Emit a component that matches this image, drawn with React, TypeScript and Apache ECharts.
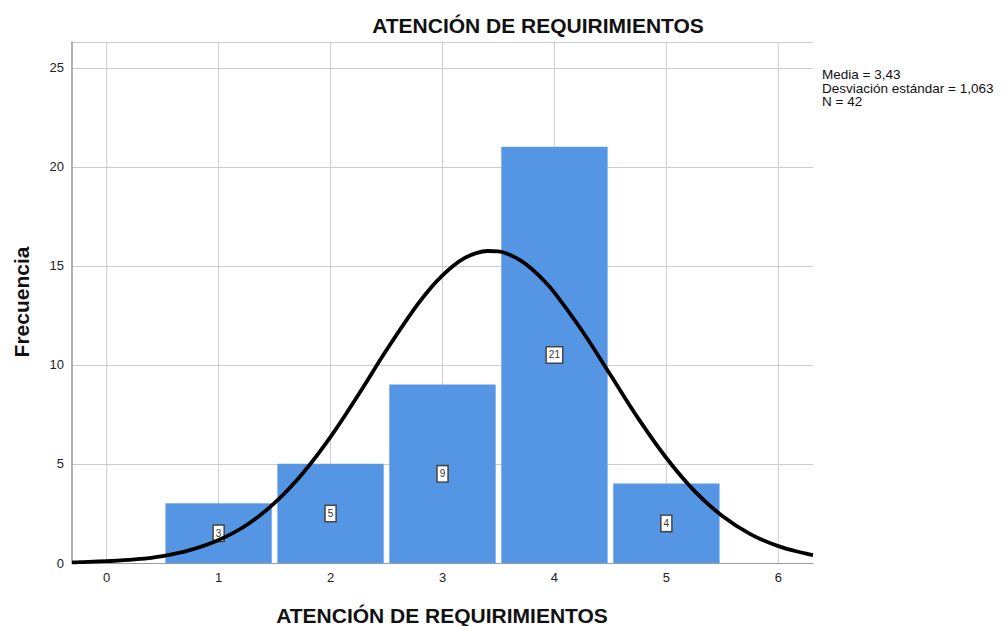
import React, { useEffect, useRef } from "react";
import * as echarts from "echarts";

const title = "ATENCIÓN DE REQUIRIMIENTOS";
const xName = "ATENCIÓN DE REQUIRIMIENTOS";
const yName = "Frecuencia";
const statsLines = ["Media = 3,43", "Desviación estándar = 1,063", "N = 42"];

const binCenters = [1, 2, 3, 4, 5];
const frequencies = [3, 5, 9, 21, 4];

const xTicks = [0, 1, 2, 3, 4, 5, 6];

// Normal curve
const curveX = [-0.31, -0.25, 0, 0.25, 0.5, 0.75, 1, 1.25, 1.5, 1.75, 2, 2.25, 2.5, 2.75, 2.9, 3.0, 3.1, 3.2, 3.3, 3.4, 3.5, 3.6, 3.7, 3.8, 3.9, 4.0, 4.25, 4.5, 4.75, 5, 5.25, 5.5, 5.75, 6, 6.25, 6.31];
const curveY = [0.03, 0.04, 0.09, 0.18, 0.35, 0.66, 1.16, 1.92, 3.03, 4.52, 6.37, 8.51, 10.75, 12.84, 13.92, 14.52, 15.02, 15.4, 15.64, 15.75, 15.73, 15.56, 15.26, 14.83, 14.29, 13.65, 11.7, 9.5, 7.29, 5.3, 3.64, 2.37, 1.46, 0.85, 0.47, 0.4];

export default function App() {
  const ref = useRef<HTMLDivElement>(null);

  useEffect(() => {
    if (!ref.current) return;
    const chart = echarts.init(ref.current, null, { renderer: "svg" });
    const font = "Arial, 'Liberation Sans', sans-serif";

    const option: any = {
      animation: false,
      backgroundColor: "#ffffff",
      textStyle: { fontFamily: font },
      grid: { left: 72, right: 191, top: 42, bottom: 63, containLabel: false },
      xAxis: {
        type: "value",
        min: -0.31,
        max: 6.31,
        axisLine: { show: true, onZero: false, lineStyle: { color: "#9a9a9a", width: 1 } },
        axisTick: { show: false, customValues: xTicks },
        splitLine: { show: false },
        axisLabel: {
          customValues: xTicks,
          color: "#222",
          fontSize: 13,
          fontFamily: font,
          margin: 8,
        },
      },
      yAxis: {
        type: "value",
        min: 0,
        max: 26.3,
        interval: 5,
        axisLine: { show: true, onZero: false, lineStyle: { color: "#9a9a9a", width: 1.5 } },
        axisTick: { show: false },
        splitLine: { show: true, lineStyle: { color: "#cccccc", width: 1 } },
        axisLabel: {
          color: "#222",
          fontSize: 13,
          fontFamily: font,
          margin: 8,
          formatter: (v: number) => (v % 5 === 0 ? String(v) : ""),
        },
      },
      series: [
        {
          type: "custom",
          z: 1,
          silent: true,
          data: xTicks.map((v) => [v]),
          renderItem: (params: any, api: any) => {
            const x = api.value(0);
            const top = api.coord([x, 26.3]);
            const bottom = api.coord([x, 0]);
            return {
              type: "line",
              shape: { x1: top[0], y1: top[1], x2: bottom[0], y2: bottom[1] },
              style: { stroke: "#cccccc", lineWidth: 1 },
            };
          },
        },
        {
          type: "custom",
          z: 2,
          data: binCenters.map((c, i) => [c, frequencies[i]]),
          renderItem: (params: any, api: any) => {
            const c = api.value(0);
            const v = api.value(1);
            const p0 = api.coord([c - 0.5, v]);
            const p1 = api.coord([c + 0.5, 0]);
            const mid = api.coord([c, v / 2]);
            const inset = 3;
            return {
              type: "group",
              children: [
                {
                  type: "rect",
                  shape: {
                    x: p0[0] + inset,
                    y: p0[1],
                    width: p1[0] - p0[0] - inset * 2,
                    height: p1[1] - p0[1],
                  },
                  style: { fill: "#5596e4", stroke: "#6aa3e8", lineWidth: 0.5 },
                },
                {
                  type: "text",
                  z2: 10,
                  style: {
                    x: mid[0],
                    y: mid[1],
                    text: String(v),
                    align: "center",
                    verticalAlign: "middle",
                    fontSize: 10,
                    fontFamily: font,
                    fill: "#333",
                    backgroundColor: "#ffffff",
                    borderColor: "#444",
                    borderWidth: 1.5,
                    padding: [3, 2, 2, 2],
                  },
                },
              ],
            };
          },
        },
        {
          type: "line",
          z: 3,
          smooth: 0.4,
          symbol: "none",
          silent: true,
          lineStyle: { color: "#000", width: 3.8 },
          data: curveX.map((x, i) => [x, curveY[i]]),
        },
      ],
      graphic: [
        {
          type: "text",
          x: 538,
          y: 25,
          style: {
            text: title,
            align: "center",
            verticalAlign: "middle",
            fontSize: 21,
            fontWeight: "bold",
            fontFamily: font,
            fill: "#111",
          },
        },
        {
          type: "text",
          x: 442,
          y: 615,
          style: {
            text: xName,
            align: "center",
            verticalAlign: "middle",
            fontSize: 21,
            fontWeight: "bold",
            fontFamily: font,
            fill: "#111",
          },
        },
        {
          type: "text",
          x: 21,
          y: 302,
          rotation: Math.PI / 2,
          style: {
            text: yName,
            align: "center",
            verticalAlign: "middle",
            fontSize: 21,
            fontWeight: "bold",
            fontFamily: font,
            fill: "#111",
          },
        },
        {
          type: "text",
          x: 822,
          y: 68,
          style: {
            text: statsLines.join("\n"),
            align: "left",
            verticalAlign: "top",
            fontSize: 13.5,
            lineHeight: 13.5,
            fontFamily: font,
            fill: "#111",
          },
        },
      ],
    };

    chart.setOption(option);
    return () => chart.dispose();
  }, []);

  return (
    <div
      ref={ref}
      style={{ position: "fixed", left: 0, top: 0, width: 1004, height: 626 }}
    />
  );
}
